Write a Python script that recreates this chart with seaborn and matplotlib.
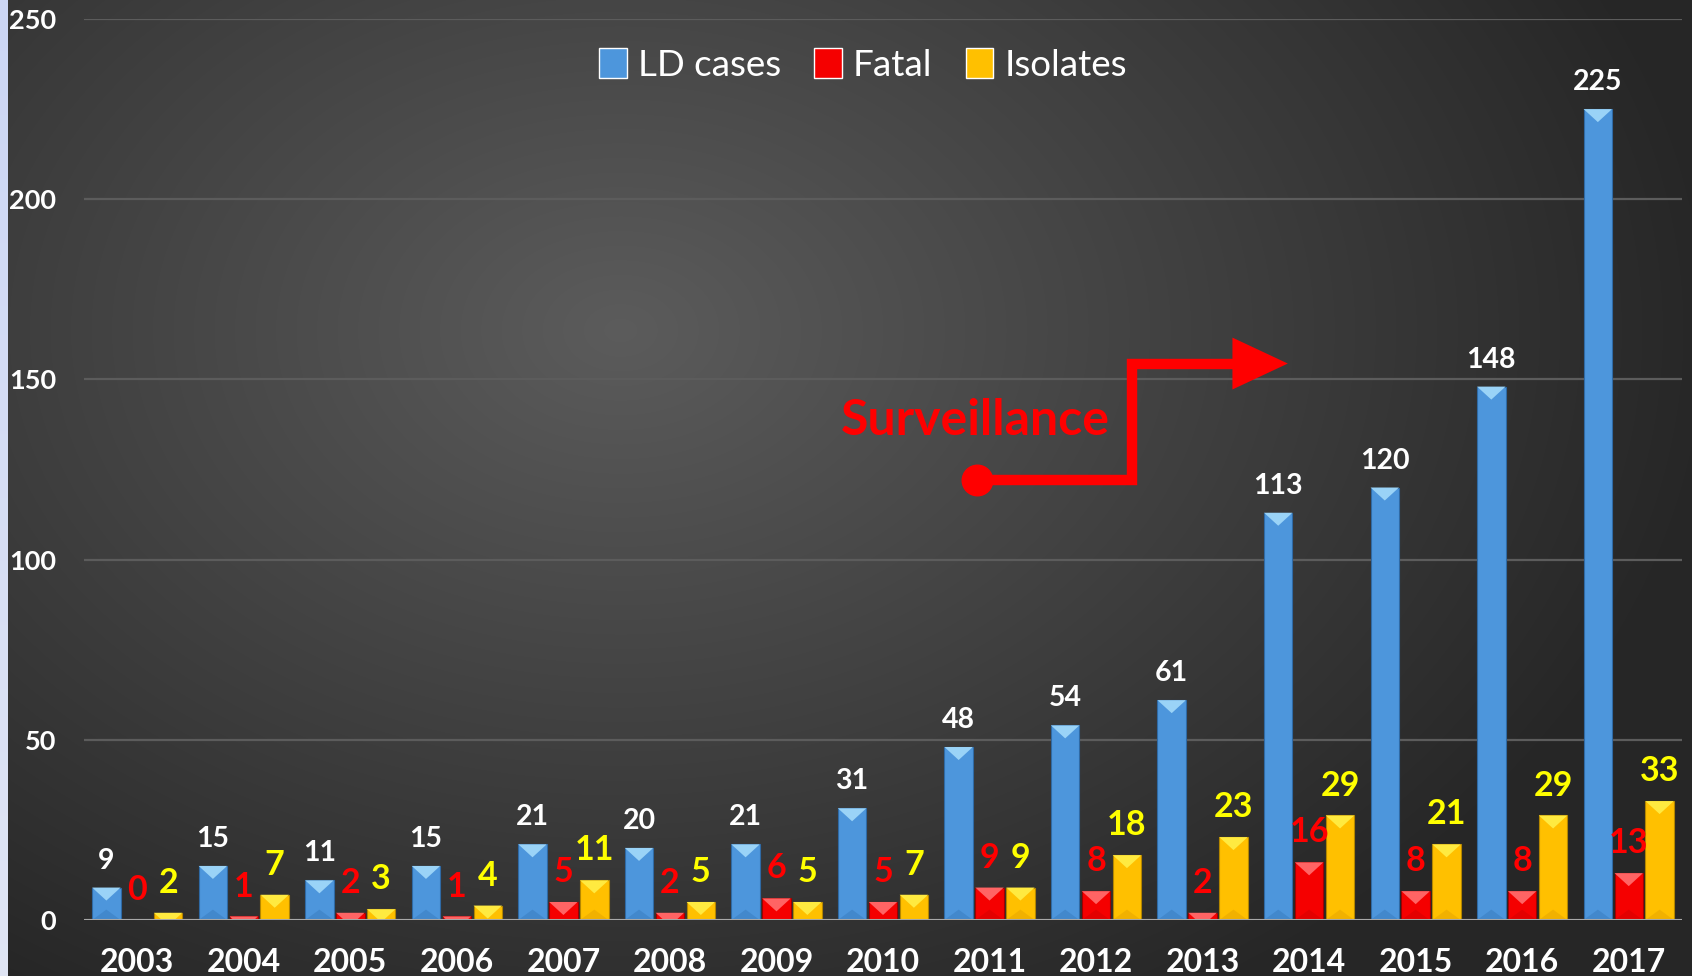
import numpy as np
import pandas as pd
import seaborn as sns
import matplotlib.pyplot as plt
from matplotlib.patches import Polygon

years = [str(y) for y in range(2003, 2018)]
ld_cases = [9, 15, 11, 15, 21, 20, 21, 31, 48, 54, 61, 113, 120, 148, 225]
fatal = [0, 1, 2, 1, 5, 2, 6, 5, 9, 8, 2, 16, 8, 8, 13]
isolates = [2, 7, 3, 4, 11, 5, 5, 7, 9, 18, 23, 29, 21, 29, 33]
series = ["LD cases", "Fatal", "Isolates"]

df = pd.DataFrame({"Year": years, "LD cases": ld_cases, "Fatal": fatal, "Isolates": isolates})
long = df.melt(id_vars="Year", var_name="Series", value_name="Count")

body = {"LD cases": "#4d96dc", "Fatal": "#f50000", "Isolates": "#ffc000"}
cap = {"LD cases": "#9ad3f7", "Fatal": "#ff6464", "Isolates": "#ffea40"}
foot = {"LD cases": "#3b7fc2", "Fatal": "#d80000", "Isolates": "#e8a800"}
edge = {"LD cases": "#2f6aa5", "Fatal": "#a00000", "Isolates": "#b38600"}
label_col = {"LD cases": "white", "Fatal": "#ff0000", "Isolates": "#ffff00"}
label_size = {"LD cases": 20.5, "Fatal": 24.5, "Isolates": 24.5}

sns.set_theme(style="dark")
plt.rcParams["font.family"] = ["Lato", "DejaVu Sans"]

fig = plt.figure(figsize=(16.92, 9.76), dpi=100)

# background: dark radial gradient + pale strip on the left
bg = fig.add_axes([0, 0, 1, 1], zorder=-10)
yy, xx = np.mgrid[0:976, 0:1692]
r = np.sqrt(((xx - 620) / 1150.0) ** 2 + ((yy - 330) / 820.0) ** 2)
shade = np.clip(0.36 - 0.22 * r, 0.15, 0.36)
bg.imshow(np.dstack([shade, shade, shade]), extent=[0, 1, 0, 1], aspect="auto")
strip = np.linspace(0, 1, 976)[:, None]
strip_rgb = np.dstack([0.80 + 0.08 * strip, 0.84 + 0.06 * strip, 0.96 + 0.0 * strip])
bg.imshow(strip_rgb, extent=[0, 8 / 1692, 0, 1], aspect="auto")
bg.set_xlim(0, 1)
bg.set_ylim(0, 1)
bg.axis("off")

ax = fig.add_axes([84 / 1692, 56 / 976, 1598 / 1692, 901 / 976])
ax.patch.set_alpha(0)

sns.barplot(data=long, x="Year", y="Count", hue="Series", hue_order=series,
            palette=body, width=0.87, gap=0.08, saturation=1, ax=ax, zorder=3)

ax.set_ylim(0, 250)
ax.set_xlim(-0.5, 14.5)
ax.set_yticks([0, 50, 100, 150, 200, 250])
ax.set_xlabel("")
ax.set_ylabel("")
for s in ax.spines.values():
    s.set_visible(False)
ax.grid(axis="y", color="#5c5c5c", linewidth=1.6, zorder=0)
ax.grid(axis="x", visible=False)
ax.axhline(0, color="#a8a8a8", linewidth=2.2, zorder=4)
ax.tick_params(axis="y", length=0, pad=20, labelsize=19.5, labelcolor="white")
ax.tick_params(axis="x", length=0, pad=20, labelsize=23, labelcolor="white")
for t in ax.get_xticklabels() + ax.get_yticklabels():
    t.set_fontweight("bold")

# bevel look on each bar, derived from the drawn patches
px = 250 / 901.0
for name, cont in zip(series, ax.containers):
    for bar in cont:
        x0, w, h = bar.get_x(), bar.get_width(), bar.get_height()
        bar.set_edgecolor(edge[name])
        bar.set_linewidth(0.8)
        if h <= 0:
            continue
        x1, xc = x0 + w, x0 + w / 2
        tri = 13 * px
        d = min(h, tri)
        f = 1 - d / tri
        ax.add_patch(Polygon([(x0, h), (x1, h), (xc + w / 2 * f, h - d), (xc - w / 2 * f, h - d)],
                             closed=True, facecolor=cap[name], edgecolor="none", zorder=3.5))
        if h > 2 * tri:
            ax.add_patch(Polygon([(x0, 0), (x1, 0), (xc, tri * 0.8)], closed=True,
                                 facecolor=foot[name], edgecolor="none", alpha=0.6, zorder=3.5))
    ax.bar_label(cont, labels=[str(int(b.get_height())) for b in cont], padding=10,
                 color=label_col[name], fontsize=label_size[name], fontweight="bold", zorder=6)

# surveillance annotation
ax.plot([7.885, 9.34, 9.34, 10.35], [122.1, 122.1, 154.3, 154.3], color="#ff0000",
        linewidth=7.5, solid_joinstyle="miter", solid_capstyle="butt", zorder=5)
ax.plot([7.885], [122.1], "o", color="#ff0000", markersize=22, zorder=5)
ax.add_patch(Polygon([(10.28, 161.6), (10.28, 147.2), (10.80, 154.4)], closed=True,
                     facecolor="#ff0000", edgecolor="none", zorder=5))
ax.text(7.87, 138.5, "Surveillance", color="#ff0000", fontsize=36, fontweight="bold",
        ha="center", va="center", zorder=6)

handles, labels = ax.get_legend_handles_labels()
ax.legend_.remove()
fig.legend(handles, labels, loc="center", bbox_to_anchor=(863 / 1692, 1 - 65 / 976), ncol=3,
           frameon=False, fontsize=26.5, labelcolor="white", handlelength=0.75, handleheight=0.85,
           handletextpad=0.3, columnspacing=0.9)

fig.savefig("out.png", dpi=100)
